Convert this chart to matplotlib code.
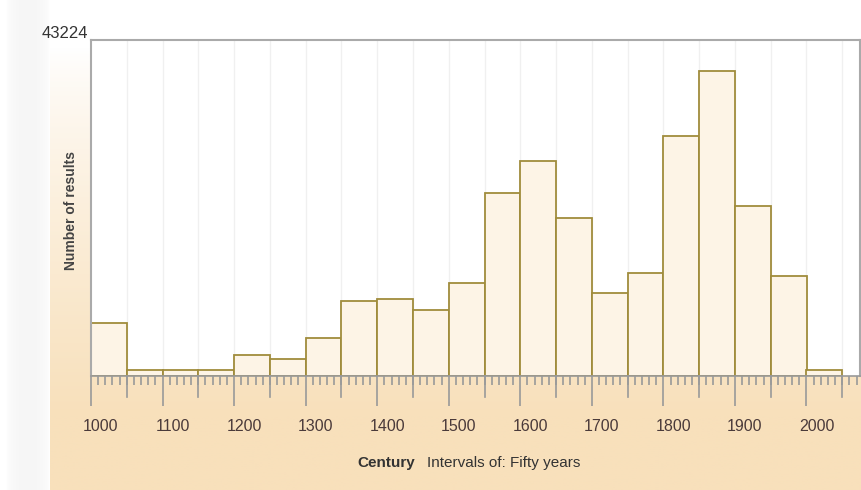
import numpy as np
import matplotlib.pyplot as plt
import matplotlib.transforms as mtransforms
from matplotlib.ticker import MultipleLocator

plt.rcParams['font.family'] = ['Liberation Sans', 'DejaVu Sans']

# data: counts per fifty-year interval
bin_starts = [1000, 1050, 1100, 1150, 1200, 1250, 1300, 1350, 1400, 1450, 1500,
              1550, 1600, 1650, 1700, 1750, 1800, 1850, 1900, 1950, 2000]
counts = [6818, 772, 772, 772, 2702, 2187, 4888, 9648, 9906, 8490, 11964,
          23542, 27658, 20326, 10677, 13250, 30874, 39236, 21869, 12864, 772]
y_max = 43224
tick_years = [1000, 1100, 1200, 1300, 1400, 1500, 1600, 1700, 1800, 1900, 2000]

W, H = 861, 490
PX = 0.72  # points per pixel at dpi 100
fig = plt.figure(figsize=(W / 100, H / 100), dpi=100)

# background: faint gray strip + vertical white->tan gradient panel
bg = fig.add_axes([0, 0, 1, 1], zorder=-10)
bg.set_xlim(0, W)
bg.set_ylim(H, 0)
bg.axis('off')
strip = np.linspace(0, 1, 50)[None, :]
bg.imshow(np.dstack([1 - 0.035 * np.sin(np.pi * strip) ** 0.5] * 3),
          extent=[6, 50, H, 0], aspect='auto')
t = np.linspace(0, 1, 256)[:, None]
top = np.array([1.0, 1.0, 1.0])
bot = np.array([0xf8, 0xe0, 0xbb]) / 255
grad = np.clip((t - 0.1) / 0.75, 0, 1) ** 0.8
img = top + (bot - top) * grad[..., None]
img = np.repeat(img, 2, axis=1)
bg.imshow(img, extent=[50, W, H, 0], aspect='auto')

left, right, top_px, base_px = 91, 860, 40, 376
ax = fig.add_axes([left / W, 1 - base_px / H, (right - left) / W, (base_px - top_px) / H])
ax.set_facecolor('white')
ax.set_xlim(1000, 1000 + (right - left) / 0.7155)
ax.set_ylim(0, y_max)

for x in np.arange(1050, 2100, 50):
    ax.axvline(x, color='#f0f0f0', lw=1, zorder=0)

ax.bar(bin_starts, counts, width=50, align='edge', color='#fdf4e6',
       edgecolor='#a08c3c', linewidth=1.3, zorder=2)

for s in ['left', 'top', 'right']:
    ax.spines[s].set_color('#aaaaaa')
    ax.spines[s].set_linewidth(1.5)
ax.spines['bottom'].set_color('#999999')
ax.spines['bottom'].set_linewidth(1.2)
ax.set_yticks([])

ax.xaxis.set_major_locator(MultipleLocator(100))
ax.xaxis.set_minor_locator(MultipleLocator(10))
ax.tick_params(axis='x', which='major', length=30 * PX, width=1.2, color='#999999',
               labelsize=11.5, labelcolor='#4a3a3a', pad=13 * PX)
ax.tick_params(axis='x', which='minor', length=9 * PX, width=1.2, color='#999999')
ax.set_xticks(tick_years)
ax.set_xticklabels([str(y) for y in tick_years])
offset = mtransforms.ScaledTranslation(10 / 100, 0, fig.dpi_scale_trans)
for lab in ax.get_xticklabels():
    lab.set_transform(lab.get_transform() + offset)

# 50-year medium ticks
for x in np.arange(1050, 2100, 100):
    ax.plot([x, x], [0, -21 / 336 * y_max], color='#999999', lw=1.2,
            clip_on=False, zorder=3)

fig.text(88 / W, 1 - 33 / H, '43224', ha='right', va='center', fontsize=12,
         color='#333333')
fig.text(71 / W, 1 - 210 / H, 'Number of results', rotation=90, ha='center',
         va='center', fontsize=10, fontweight='bold', color='#444444')
fig.text(415 / W, 1 - 463 / H, 'Century', ha='right', va='center', fontsize=11,
         fontweight='bold', color='#333333')
fig.text(427 / W, 1 - 463 / H, 'Intervals of: Fifty years', ha='left',
         va='center', fontsize=11, color='#333333')

fig.savefig('out.png', dpi=100)
